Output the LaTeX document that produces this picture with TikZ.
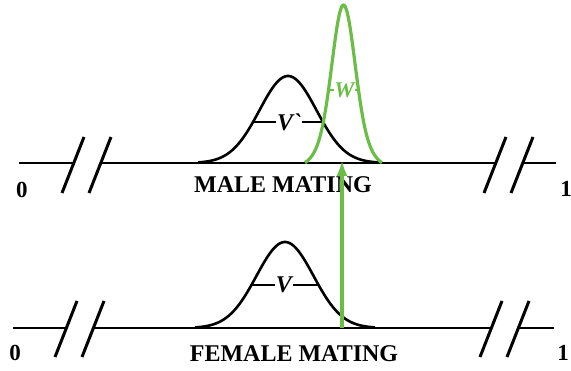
\documentclass[tikz,border=0pt]{standalone}
\usepackage{fontspec}
\setmainfont{Liberation Serif}
\usetikzlibrary{arrows.meta,calc}
\definecolor{grn}{RGB}{106,189,69}
\begin{document}
\begin{tikzpicture}[x=1pt,y=-1pt,
  axis/.style={line width=1.6pt},
  brk/.style={line width=3pt},
  bell/.style={line width=2.6pt,line join=round},
  gbell/.style={line width=3.2pt,grn,line join=round},
  lbl/.style={font=\fontsize{24}{24}\selectfont\bfseries, inner sep=0pt},
  num/.style={font=\fontsize{23}{23}\selectfont\bfseries, inner sep=0pt},
  var/.style={font=\fontsize{24}{24}\selectfont\bfseries\itshape, inner sep=1pt},
  gvar/.style={font=\fontsize{22.5}{22.5}\selectfont\bfseries\itshape, inner sep=0.3pt, text=grn},
  dashln/.style={line width=1.5pt}]
\useasboundingbox (0,0) rectangle (571,371);

% ---- top axis ----
\coordinate (L1) at (19,163);
\coordinate (R1) at (556,163);
\coordinate (a1b) at (62,193); \coordinate (a1t) at (84,137);
\coordinate (a2b) at (89,193); \coordinate (a2t) at (111,137);
\coordinate (a3b) at (484,193); \coordinate (a3t) at (506,137);
\coordinate (a4b) at (511,193); \coordinate (a4t) at (533,137);
\draw[axis] (L1) -- (intersection of L1--R1 and a1b--a1t);
\draw[axis] (intersection of L1--R1 and a2b--a2t) -- (intersection of L1--R1 and a3b--a3t);
\draw[axis] (intersection of L1--R1 and a4b--a4t) -- (R1);
\foreach \s in {a1,a2,a3,a4} \draw[brk] (\s b) -- (\s t);

% ---- bottom axis ----
\coordinate (L2) at (13,328);
\coordinate (R2) at (554,328);
\coordinate (b1b) at (55,357); \coordinate (b1t) at (77,301);
\coordinate (b2b) at (82,357); \coordinate (b2t) at (104,301);
\coordinate (b3b) at (480,357); \coordinate (b3t) at (502,301);
\coordinate (b4b) at (507,357); \coordinate (b4t) at (529,301);
\draw[axis] (L2) -- (intersection of L2--R2 and b1b--b1t);
\draw[axis] (intersection of L2--R2 and b2b--b2t) -- (intersection of L2--R2 and b3b--b3t);
\draw[axis] (intersection of L2--R2 and b4b--b4t) -- (R2);
\foreach \s in {b1,b2,b3,b4} \draw[brk] (\s b) -- (\s t);

% ---- labels ----
\node[num] (z1) at (22,190) {0};
\node[num] (o1) at (566,189) {1};
\node[num] (z2) at (15,353) {0};
\node[num] (o2) at (563,353) {1};
\node[lbl] (male) at (283,185) {MALE MATING};
\node[lbl] (female) at (294,354) {FEMALE MATING};

% ---- top black bell ----
\draw[bell] plot[domain=-90:90, samples=90] ({288+\x},{163-87*exp(-(\x*\x)/1624.5)});
\node[var] (vp) at (289,122) {V\textasciigrave};
\draw[dashln] (253,122) -- (vp.west);
\draw[dashln] (vp.east) -- (323,122);

% ---- bottom black bell ----
\draw[bell] plot[domain=-90:90, samples=90] ({285+\x},{328-86*exp(-(\x*\x)/1624.5)});
\node[var] (v) at (284,285) {V};
\draw[dashln] (251.4,285) -- (v.west);
\draw[dashln] (v.east) -- (318.6,285);

% ---- green bell ----
\draw[gbell] plot[domain=-38.5:38.5, samples=80] ({343.5+\x},{163-(124.3*exp(-(\x*\x)/242)+40*exp(-(\x*\x)/800)-6.3)});
\node[gvar] (w) at (344.5,90) {W};
\draw[dashln,grn] (328.5,90) -- (w.west);
\draw[dashln,grn] (w.east) -- (358.5,90);

% ---- green arrow ----
\coordinate (afrom) at (342,328);
\coordinate (ato) at (342,160);
\draw[grn, line width=3.2pt, -{Latex[length=16pt,width=11pt]}] (afrom) -- (ato);
\end{tikzpicture}
\end{document}
